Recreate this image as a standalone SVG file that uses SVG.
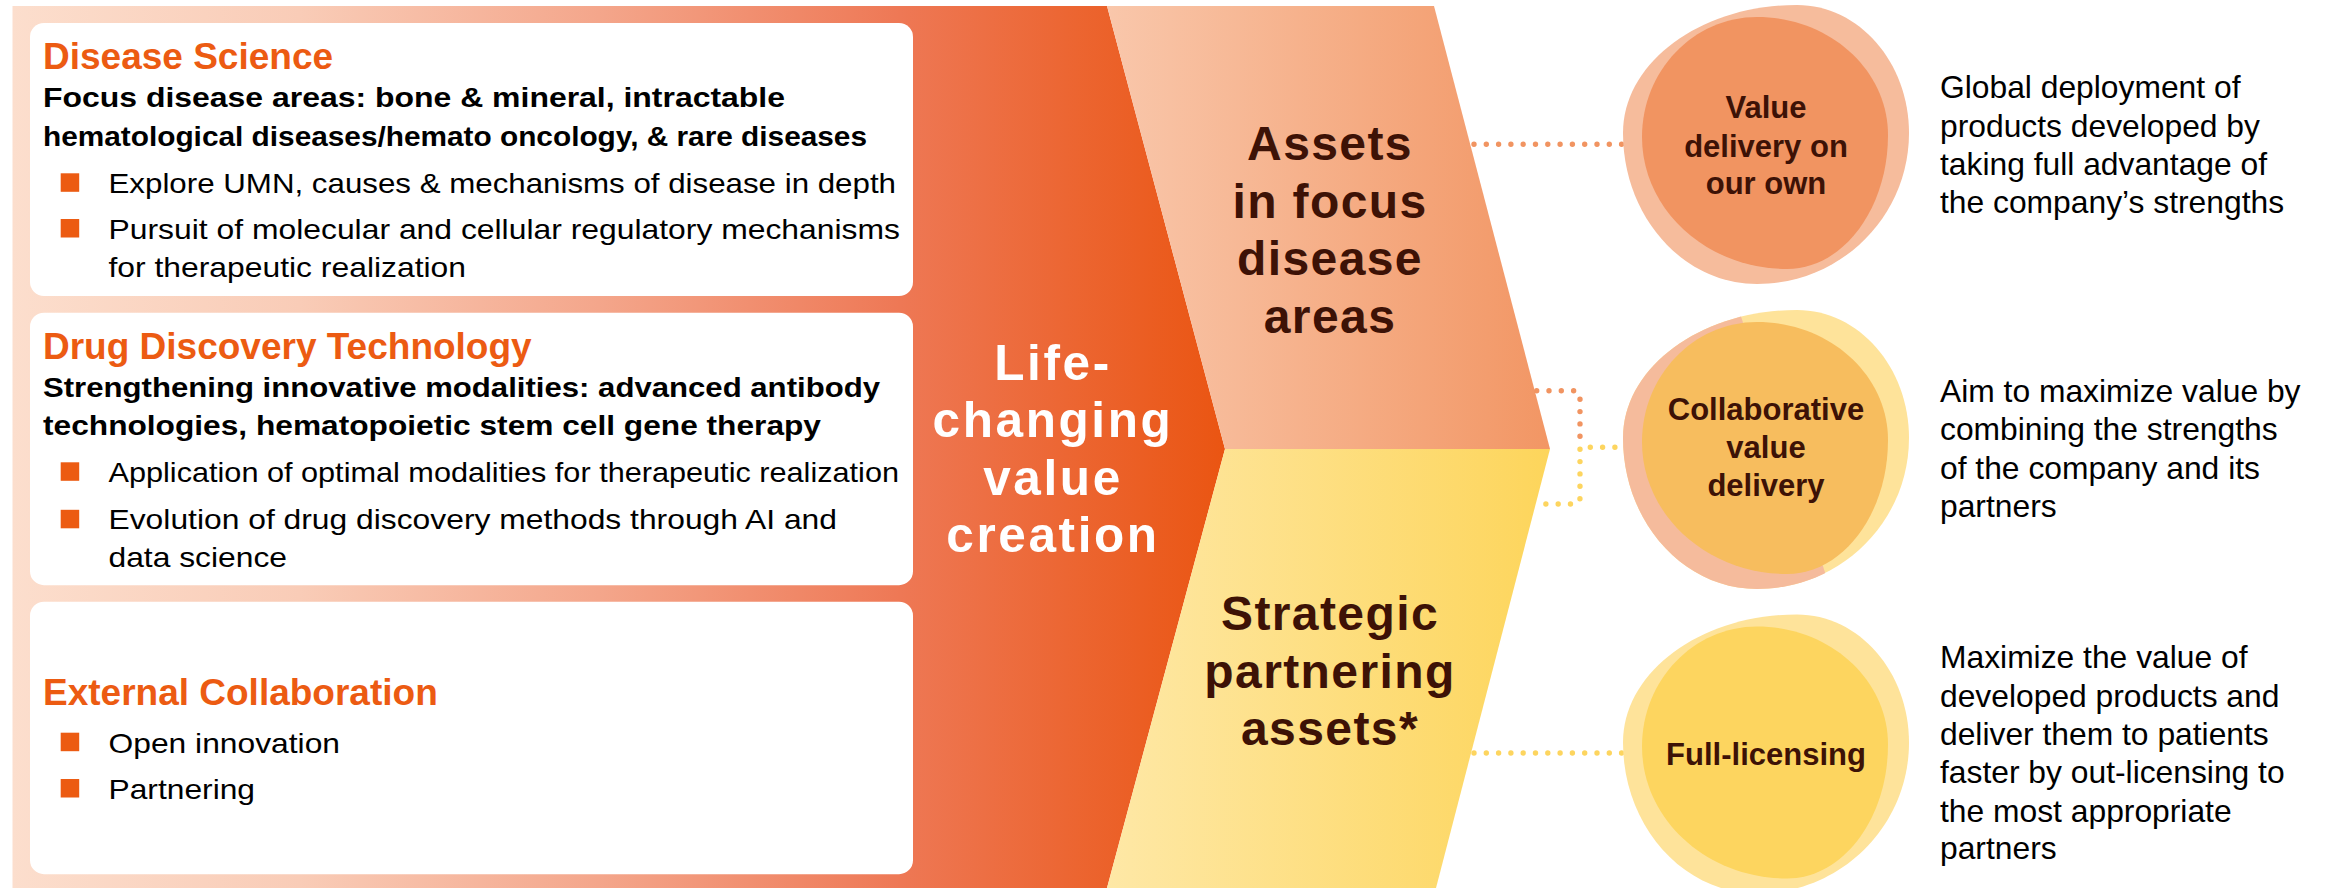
<svg xmlns="http://www.w3.org/2000/svg" xmlns:xlink="http://www.w3.org/1999/xlink" width="2331" height="888" viewBox="0 0 2331 888">
<defs>
  <linearGradient id="gBand" gradientUnits="userSpaceOnUse" x1="12" y1="0" x2="1225" y2="0">
    <stop offset="0" stop-color="#FCDECD"/>
    <stop offset="0.237" stop-color="#F9CCB7"/>
    <stop offset="0.484" stop-color="#F4A68B"/>
    <stop offset="0.732" stop-color="#EE7855"/>
    <stop offset="1" stop-color="#EA5512"/>
  </linearGradient>
  <linearGradient id="gPeach" gradientUnits="userSpaceOnUse" x1="1107" y1="0" x2="1550" y2="0">
    <stop offset="0" stop-color="#F9C7AB"/>
    <stop offset="1" stop-color="#F29664"/>
  </linearGradient>
  <linearGradient id="gYellow" gradientUnits="userSpaceOnUse" x1="1107" y1="0" x2="1550" y2="0">
    <stop offset="0" stop-color="#FEE8A6"/>
    <stop offset="1" stop-color="#FDD55B"/>
  </linearGradient>
  <path id="blobBack" d="M31,-139 C92.9,-139 143,-81.7 143,-11 C143,72.4 75,140 -9,140 C-83,140 -143,72.4 -143,-11 C-143,-81.7 -65.1,-139 31,-139 Z"/>
  <path id="blobFront" d="M-9,-127 C63.4,-127 122,-74.2 122,-9 C122,65 76.8,125 21,125 C-59.1,125 -124,65.9 -124,-7 C-124,-73.3 -72.5,-127 -9,-127 Z"/>
  <clipPath id="clipLeft">
    <polygon points="-170,-160 -34,-160 71,160 -170,160"/>
  </clipPath>
</defs>
<style>
  text { font-family: "Liberation Sans", Arial, sans-serif; }
  .card { fill: #FFFFFF; }
  .head { font-size: 37px; font-weight: bold; fill: #EC5B12; }
  .sub { font-size: 28px; font-weight: bold; fill: #000000; }
  .body { font-size: 28px; fill: #000000; }
  .sq { fill: #EC5B12; }
  .white { font-size: 49.5px; font-weight: bold; fill: #FFFFFF; text-anchor: middle; letter-spacing: 2.6px; }
  .dark { font-size: 48px; font-weight: bold; fill: #3D1206; text-anchor: middle; letter-spacing: 1.4px; }
  .ctext { font-size: 31px; font-weight: bold; fill: #3D1206; text-anchor: middle; }
  .desc { font-size: 31.8px; fill: #000000; }
  .dotO { fill: none; stroke: #F19461; stroke-width: 5.4; stroke-linecap: round; stroke-dasharray: 0 12.3; }
  .dotY { fill: none; stroke: #FDD55F; stroke-width: 5.4; stroke-linecap: round; stroke-dasharray: 0 12.3; }
</style>

<rect width="2331" height="888" fill="#FFFFFF"/>

<g id="band">
  <polygon points="12.5,6 1107,6 1225,449 1107,888 12.5,888" fill="url(#gBand)"/>
</g>

<g id="card-disease-science">
  <rect class="card" x="30" y="23" width="883" height="273" rx="14"/>
  <text class="head" x="43" y="69.3">Disease Science</text>
  <text class="sub" x="43" y="107.3" textLength="742" lengthAdjust="spacingAndGlyphs">Focus disease areas: bone &amp; mineral, intractable</text>
  <text class="sub" x="43" y="145.7" textLength="824" lengthAdjust="spacingAndGlyphs">hematological diseases/hemato oncology, &amp; rare diseases</text>
  <rect class="sq" x="60.7" y="173.3" width="18.5" height="18.5"/>
  <text class="body" x="108.5" y="192.7" textLength="787.5" lengthAdjust="spacingAndGlyphs">Explore UMN, causes &amp; mechanisms of disease in depth</text>
  <rect class="sq" x="60.7" y="219" width="18.5" height="18.5"/>
  <text class="body" x="108.5" y="238.5" textLength="791.5" lengthAdjust="spacingAndGlyphs">Pursuit of molecular and cellular regulatory mechanisms</text>
  <text class="body" x="108.5" y="276.7" textLength="357.5" lengthAdjust="spacingAndGlyphs">for therapeutic realization</text>
</g>

<g id="card-drug-discovery">
  <rect class="card" x="30" y="312.7" width="883" height="272.5" rx="14"/>
  <text class="head" x="43" y="358.5">Drug Discovery Technology</text>
  <text class="sub" x="43" y="397" textLength="837" lengthAdjust="spacingAndGlyphs">Strengthening innovative modalities: advanced antibody</text>
  <text class="sub" x="43" y="435" textLength="778" lengthAdjust="spacingAndGlyphs">technologies, hematopoietic stem cell gene therapy</text>
  <rect class="sq" x="60.7" y="462.3" width="18.5" height="18.5"/>
  <text class="body" x="108.5" y="482" textLength="790.5" lengthAdjust="spacingAndGlyphs">Application of optimal modalities for therapeutic realization</text>
  <rect class="sq" x="60.7" y="509.8" width="18.5" height="18.5"/>
  <text class="body" x="108.5" y="529.3" textLength="728.5" lengthAdjust="spacingAndGlyphs">Evolution of drug discovery methods through AI and</text>
  <text class="body" x="108.5" y="566.7" textLength="178.5" lengthAdjust="spacingAndGlyphs">data science</text>
</g>

<g id="card-external-collaboration">
  <rect class="card" x="30" y="601.7" width="883" height="272.5" rx="14"/>
  <text class="head" x="43" y="705">External Collaboration</text>
  <rect class="sq" x="60.7" y="732.7" width="18.5" height="18.5"/>
  <text class="body" x="108.5" y="752.7" textLength="231.5" lengthAdjust="spacingAndGlyphs">Open innovation</text>
  <rect class="sq" x="60.7" y="779" width="18.5" height="18.5"/>
  <text class="body" x="108.5" y="799" textLength="146.5" lengthAdjust="spacingAndGlyphs">Partnering</text>
</g>

<g id="node-life-changing">
  <text class="white" x="1053" y="380">Life-</text>
  <text class="white" x="1053" y="437">changing</text>
  <text class="white" x="1053" y="495">value</text>
  <text class="white" x="1053" y="551.7">creation</text>
</g>

<g id="node-assets-focus">
  <polygon points="1107,6 1434,6 1550,449 1225,449" fill="url(#gPeach)"/>
  <text class="dark" x="1330" y="160">Assets</text>
  <text class="dark" x="1330" y="218.3">in focus</text>
  <text class="dark" x="1330" y="275">disease</text>
  <text class="dark" x="1330" y="332.7">areas</text>
</g>

<g id="node-strategic-partnering">
  <polygon points="1225,449 1550,449 1436,888 1107,888" fill="url(#gYellow)"/>
  <text class="dark" x="1330" y="630">Strategic</text>
  <text class="dark" x="1330" y="688.3">partnering</text>
  <text class="dark" x="1330" y="745">assets*</text>
</g>

<g id="connectors">
  <path class="dotO" d="M1474 144.3 H1622"/>
  <path class="dotO" d="M1536.7 390.7 H1573.5 Q1580 390.7 1580 397 V446"/>
  <path class="dotY" d="M1580 449.3 V497.5 Q1580 504 1573.5 504 H1536"/>
  <path class="dotY" d="M1590.3 447.3 H1622"/>
  <path class="dotY" d="M1474 753 H1622"/>
</g>

<g id="node-value-own">
  <g transform="translate(1766,144)">
    <use xlink:href="#blobBack" fill="#F6BC9C"/>
    <use xlink:href="#blobFront" fill="#F19461"/>
  </g>
  <text class="ctext" x="1766" y="118.3">Value</text>
  <text class="ctext" x="1766" y="156.7">delivery on</text>
  <text class="ctext" x="1766" y="194.3">our own</text>
  <text class="desc" x="1940" y="98.3">Global deployment of</text>
  <text class="desc" x="1940" y="136.7">products developed by</text>
  <text class="desc" x="1940" y="175">taking full advantage of</text>
  <text class="desc" x="1940" y="213.3">the company’s strengths</text>
</g>

<g id="node-collaborative">
  <g transform="translate(1766,449)">
    <use xlink:href="#blobBack" fill="#FEE39A"/>
    <use xlink:href="#blobBack" fill="#F5BB9C" clip-path="url(#clipLeft)"/>
    <use xlink:href="#blobFront" fill="#F7BD5E"/>
  </g>
  <text class="ctext" x="1766" y="420">Collaborative</text>
  <text class="ctext" x="1766" y="458.3">value</text>
  <text class="ctext" x="1766" y="496">delivery</text>
  <text class="desc" x="1940" y="401.7">Aim to maximize value by</text>
  <text class="desc" x="1940" y="440">combining the strengths</text>
  <text class="desc" x="1940" y="479.3">of the company and its</text>
  <text class="desc" x="1940" y="516.7">partners</text>
</g>

<g id="node-full-licensing">
  <g transform="translate(1766,753.5)">
    <use xlink:href="#blobBack" fill="#FEE39A"/>
    <use xlink:href="#blobFront" fill="#FDD55F"/>
  </g>
  <text class="ctext" x="1766" y="764.7">Full-licensing</text>
  <text class="desc" x="1940" y="668.3">Maximize the value of</text>
  <text class="desc" x="1940" y="706.7">developed products and</text>
  <text class="desc" x="1940" y="745">deliver them to patients</text>
  <text class="desc" x="1940" y="783.3">faster by out-licensing to</text>
  <text class="desc" x="1940" y="821.7">the most appropriate</text>
  <text class="desc" x="1940" y="859.3">partners</text>
</g>
</svg>
